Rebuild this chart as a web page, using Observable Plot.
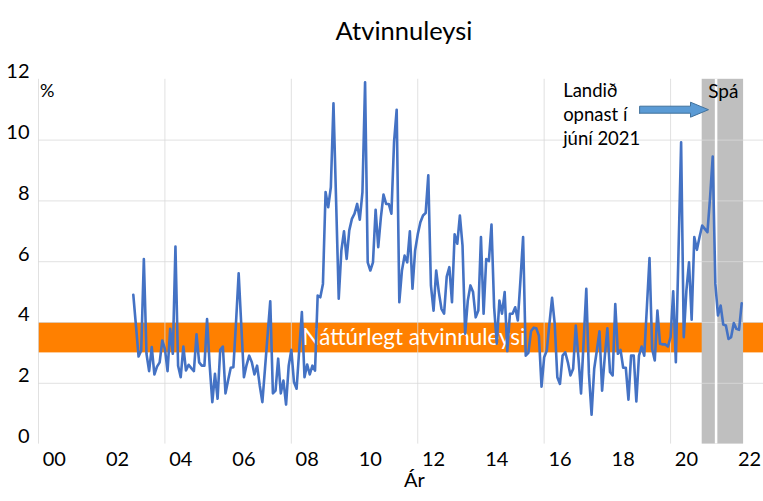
<!DOCTYPE html>
<html><head><meta charset="utf-8">
<script src="https://cdn.jsdelivr.net/npm/d3@7"></script>
<script src="https://cdn.jsdelivr.net/npm/@observablehq/plot@0.6"></script>
<style>body{margin:0;background:#fff;} svg{display:block;}</style>
</head><body><div id="chart"></div>
<script>
// Monthly unemployment (%), starting January 2003
const startYear = 2003;
const values = [
  4.91, 3.9, 2.88, 3.08, 6.09, 2.97, 2.40, 3.19, 2.29, 2.55, 2.69, 3.41,
  3.13, 2.40, 3.79, 2.97, 6.5, 2.58, 2.20, 3.21, 2.42, 2.61, 2.5, 2.40,
  3.61, 2.69, 2.58, 2.58, 4.11, 2.58, 1.38, 2.31, 1.49, 3.10, 3.21, 1.67,
  2.1, 2.51, 2.53, 4.0, 5.62, 3.9, 2.20, 2.6, 2.91, 2.69, 2.29, 2.58,
  1.93, 1.38, 2.48, 3.6, 4.70, 1.67, 1.76, 2.81, 1.67, 2.09, 1.30, 2.58,
  3.10, 2.04, 1.82, 3.1, 4.34, 2.20, 2.62, 2.29, 2.58, 2.42, 4.89, 4.83,
  5.27, 8.29, 7.79, 8.45, 11.21, 8.0, 4.78, 6.37, 7.0, 6.09, 7.03, 7.41,
  7.58, 7.90, 7.38, 8.29, 11.9, 5.98, 5.71, 5.98, 7.71, 6.48, 7.46, 8.21,
  7.90, 7.90, 7.58, 9.93, 11.0, 4.67, 5.71, 6.2, 5.98, 7.0, 5.11, 6.37,
  6.9, 7.3, 7.52, 7.60, 8.84, 5.22, 4.39, 5.71, 5.0, 4.45, 4.29, 5.51,
  5.82, 4.67, 6.9, 6.59, 7.52, 6.53, 3.63, 4.72, 5.22, 5.0, 4.17, 4.39,
  6.81, 4.29, 6.09, 6.02, 7.22, 4.50, 3.30, 4.72, 4.29, 5.0, 3.06, 4.29,
  4.29, 4.50, 4.07, 5.4, 6.81, 2.91, 3.0, 3.71, 3.83, 3.81, 3.57, 1.89,
  2.86, 3.08, 3.96, 4.81, 3.96, 2.20, 1.98, 2.91, 3.02, 2.69, 2.26, 2.48,
  3.90, 2.86, 1.67, 3.41, 5.11, 2.31, 0.97, 2.48, 3.08, 3.71, 1.76, 2.86,
  3.81, 2.37, 2.26, 4.61, 2.97, 3.10, 2.51, 2.51, 1.46, 2.91, 2.91, 1.40,
  2.91, 3.21, 2.91, 4.5, 6.12, 3.13, 2.75, 4.39, 3.30, 3.28, 3.28, 3.21,
  3.52, 5.03, 2.69, 6.3, 9.93, 3.52, 5.05, 5.98, 4.09, 6.81, 6.39, 6.81,
  7.19, 7.08, 6.97, 8.12, 9.46, 5.27, 4.23, 4.56, 3.93, 3.90, 3.46, 3.52,
  3.98, 3.79, 3.76, 4.63
];
const yTicks = [0, 2, 4, 6, 8, 10, 12];
const yGrid = [2, 4, 6, 8, 10];
const xTickYears = [2000, 2002, 2004, 2006, 2008, 2010, 2012, 2014, 2016, 2018, 2020, 2022];
const xTickLabels = ["00", "02", "04", "06", "08", "10", "12", "14", "16", "18", "20", "22"];
const xGridYears = [2000, 2004, 2008, 2012, 2016, 2020];
const naturalLow = 3, naturalHigh = 4;
const naturalLabel = "Náttúrlegt atvinnuleysi";
const forecastStart = 2021.0, forecastEnd = 2022.31;
const openingDate = 2021.44;
const openingLabel = "Landið\nopnast í\njúní 2021";
const forecastLabel = "Spá";
const arrowFrom = 2019.02, arrowTo = 2021.2, arrowY = 11.0;

const data = values.map((v, i) => ({date: startYear + i / 12, value: v}));

const pxX = 31.6, pxY = 30.4;
const shaftH = 3.5 / pxY, headH = 7.5 / pxY, headL = 18 / pxX;
const arrowPoly = [
  [arrowFrom, arrowY - shaftH], [arrowTo - headL, arrowY - shaftH], [arrowTo - headL, arrowY - headH],
  [arrowTo, arrowY], [arrowTo - headL, arrowY + headH], [arrowTo - headL, arrowY + shaftH],
  [arrowFrom, arrowY + shaftH], [arrowFrom, arrowY - shaftH]
];

const font = "Lato, 'Open Sans', sans-serif";
const chart = Plot.plot({
  width: 763, height: 501,
  marginLeft: 38, marginRight: 0, marginTop: 78.8, marginBottom: 57.4,
  style: {fontFamily: font, background: "#fff", color: "#000"},
  x: {type: "linear", domain: [2000, 2022.94], axis: null},
  y: {domain: [0, 12], axis: null},
  marks: [
    Plot.rect([{a: naturalLow, b: naturalHigh}], {x1: 2000, x2: 2022.94, y1: "a", y2: "b", fill: "#FF8000"}),
    Plot.rect([{a: forecastStart, b: forecastEnd}], {x1: "a", x2: "b", y1: 0, y2: 12, fill: "#BFBFBF"}),
    Plot.ruleY(yGrid, {stroke: "#D9D9D9", strokeWidth: 1, strokeOpacity: 0.8}),
    Plot.ruleX(xGridYears, {stroke: "#D9D9D9", strokeWidth: 1, strokeOpacity: 0.8}),
    Plot.ruleX([openingDate], {y1: 0, y2: 12, stroke: "#fff", strokeWidth: 2.5}),
    Plot.text([naturalLabel], {x: 2011.88, y: (naturalLow + naturalHigh) / 2, fill: "#fff", fontSize: 22.4}),
    Plot.line(data, {x: "date", y: "value", stroke: "#4472C4", strokeWidth: 2.6, strokeLinejoin: "round"}),
    Plot.line(arrowPoly, {x: d => d[0], y: d => d[1], fill: "#5B9BD5", stroke: "#41719C", strokeWidth: 1}),
    Plot.text([openingLabel], {x: 2016.6, y: 10.875, textAnchor: "start", lineAnchor: "middle", lineHeight: 1.3, fontSize: 18.5, fill: "#000"}),
    Plot.text([forecastLabel], {x: 2021.67, y: 11.58, fontSize: 19, fill: "#000"}),
    Plot.text(yTicks, {x: 2000, y: d => d, dx: -9, dy: -7.5, textAnchor: "end", fontSize: 20, fill: "#000"}),
    Plot.text(xTickLabels, {x: (d, i) => xTickYears[i] + 0.5, y: 0, dy: 15, fontSize: 20, fill: "#000"}),
    Plot.text(["%"], {x: 2000, y: 12, dx: 8.7, dy: 12, fontSize: 18, fill: "#000"}),
    Plot.text(["Ár"], {frameAnchor: "bottom", dx: 13.5, dy: 43, fontSize: 20, fill: "#000"}),
    Plot.text(["Atvinnuleysi"], {frameAnchor: "top", dx: 3, dy: -57, fontSize: 25.5, fill: "#000"})
  ]
});
document.getElementById("chart").appendChild(chart);
</script>
</body></html>
